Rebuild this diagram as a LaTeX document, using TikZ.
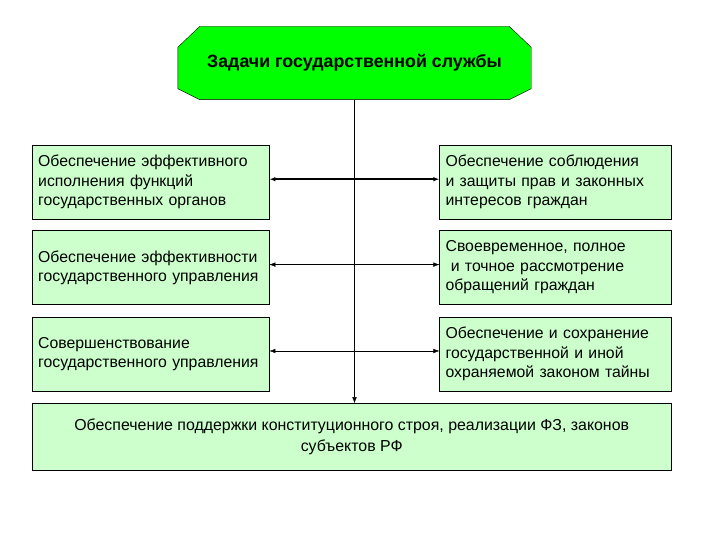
\documentclass[tikz,border=0pt]{standalone}
\usepackage{fontspec}
\setmainfont{Liberation Sans}
\usetikzlibrary{arrows.meta, positioning, backgrounds}
\definecolor{topgreen}{RGB}{0,255,0}
\definecolor{boxgreen}{RGB}{204,255,204}

\begin{document}
\begin{tikzpicture}[x=1pt, y=-1pt,
	task/.style={minimum width=353pt, minimum height=73pt, inner sep=0pt, font=\fontsize{17.8}{20}\selectfont\bfseries},
	block/.style={draw, fill=boxgreen, minimum height=74pt, text width=225pt, inner xsep=6pt, align=left, font=\fontsize{15.8}{19.5}\selectfont},
	wideblock/.style={draw, fill=boxgreen, minimum height=67pt, minimum width=639pt, align=center, font=\fontsize{15.9}{21}\selectfont},
	arrow/.style={<->, >={Latex[length=6pt, width=4.5pt]}},
	down/.style={->, >={Latex[length=6pt, width=4.5pt]}}
	]
	\useasboundingbox (0,0) rectangle (720,540);

	\node[task] (task) at (354.5,63) {Задачи государственной службы};
	\begin{pgfonlayer}{background}
		\draw[fill=topgreen] ([xshift=22pt]task.north west) -- ([xshift=-22pt]task.north east)
			-- ([yshift=-21pt]task.north east) -- ([yshift=11pt]task.south east)
			-- ([xshift=-22pt]task.south east) -- ([xshift=22pt]task.south west)
			-- ([yshift=11pt]task.south west) -- ([yshift=-21pt]task.north west) -- cycle;
	\end{pgfonlayer}

	\node[block, anchor=north west] (organs) at (32,145) {Обеспечение эффективного\\исполнения функций\\государственных органов};
	\node[block, below=11pt of organs] (govern) {Обеспечение эффективности\\государственного управления};
	\node[block, below=12pt of govern] (improve) {Совершенствование\\государственного управления};

	\node[block, text width=220pt, right=170pt of organs] (rights) {Обеспечение соблюдения\\и защиты прав и законных\\интересов граждан};
	\node[block, text width=220pt, right=170pt of govern] (appeals) {Своевременное, полное\\\ и точное рассмотрение\\обращений граждан};
	\node[block, text width=220pt, right=170pt of improve] (secret) {Обеспечение и сохранение\\государственной и иной\\охраняемой законом тайны};

	\node[wideblock, below right=12pt and 0pt of improve.south west] (law) {Обеспечение поддержки конституционного строя, реализации ФЗ, законов\\субъектов РФ};

	% Connections
	\draw[down] (task.south) -- (task.south |- law.north);
	\draw[arrow, line width=1.5pt] ([yshift=3pt]organs.east) -- ([yshift=3pt]rights.west);
	\draw[arrow] ([yshift=3pt]govern.east) -- ([yshift=3pt]appeals.west);
	\draw[arrow] ([yshift=3pt]improve.east) -- ([yshift=3pt]secret.west);

\end{tikzpicture}
\end{document}
